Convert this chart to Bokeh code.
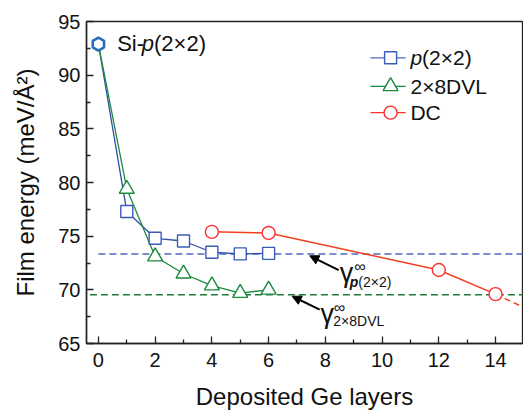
from bokeh.plotting import figure
from bokeh.models import Label, Arrow, NormalHead, Range1d, FixedTicker
from bokeh.embed import file_html
from bokeh.resources import INLINE
import numpy as np

# ---- data ----
si_x = [0]
si_y = [92.9]
p22_x = [1, 2, 3, 4, 5, 6]
p22_y = [77.3, 74.8, 74.55, 73.5, 73.35, 73.4]
dvl_x = [1, 2, 3, 4, 5, 6]
dvl_y = [79.4, 73.1, 71.5, 70.4, 69.7, 70.0]
dc_x = [4, 6, 12, 14]
dc_y = [75.4, 75.3, 71.85, 69.6]
dc_ext_x = [14, 15]
dc_ext_y = [69.6, 68.35]
gamma_p22 = 73.35
gamma_dvl = 69.55
x_ticks = [0, 2, 4, 6, 8, 10, 12, 14]
y_ticks = [65, 70, 75, 80, 85, 90, 95]

BLUE = "#2f50a8"
BLUE_D = "#5068bb"
GREEN = "#1c8a3c"
GREEN_D = "#1f7a3a"
RED = "#f0401e"
RED_M = "#ff3030"
HEX = "#2a6cb8"
FONT = "Liberation Sans"

p = figure(width=523, height=412, output_backend="svg", toolbar_location=None,
           x_range=Range1d(-0.42, 14.95), y_range=Range1d(65, 95),
           min_border_left=86, min_border_right=1, min_border_top=21, min_border_bottom=65)
p.grid.visible = False
p.outline_line_color = "#222222"
p.outline_line_width = 1.3
p.background_fill_color = "white"
p.border_fill_color = "white"

for ax in (p.xaxis[0], p.yaxis[0]):
    ax.axis_line_width = 1.5
    ax.axis_line_color = "#222222"
    ax.major_tick_in = 7
    ax.major_tick_out = 0
    ax.minor_tick_in = 4
    ax.minor_tick_out = 0
    ax.major_tick_line_width = 1.3
    ax.minor_tick_line_width = 1.3
    ax.major_tick_line_color = "#222222"
    ax.minor_tick_line_color = "#222222"
    ax.major_label_text_font = FONT
    ax.major_label_text_font_size = "20px"
    ax.major_label_text_color = "#111111"
    ax.axis_label_text_font = FONT
    ax.axis_label_text_font_size = "24px"
    ax.axis_label_text_font_style = "normal"
    ax.axis_label_text_color = "#111111"

p.xaxis[0].ticker = FixedTicker(ticks=x_ticks, minor_ticks=[1, 3, 5, 7, 9, 11, 13])
p.yaxis[0].ticker = FixedTicker(ticks=y_ticks, minor_ticks=[67.5, 72.5, 77.5, 82.5, 87.5, 92.5])
p.xaxis[0].axis_label = "Deposited Ge layers"
p.yaxis[0].axis_label = "Film energy (meV/Å²)"
p.xaxis[0].major_label_standoff = 9
p.yaxis[0].major_label_standoff = 6
p.xaxis[0].axis_label_standoff = 13
p.yaxis[0].axis_label_standoff = 16

# limit lines
p.line([0, 15], [gamma_p22, gamma_p22], line_color=BLUE_D, line_width=1.5, line_dash="7 4")
p.line([-0.3, 15], [gamma_dvl, gamma_dvl], line_color=GREEN_D, line_width=1.5, line_dash="7 4")

# series lines
p.line(si_x + p22_x, si_y + p22_y, line_color=BLUE, line_width=1.3)
p.line(si_x + dvl_x, si_y + dvl_y, line_color=GREEN, line_width=1.3)
p.line(dc_x, dc_y, line_color=RED, line_width=1.5)
p.line(dc_ext_x, dc_ext_y, line_color=RED, line_width=1.5, line_dash="6 4")

# markers
p.scatter(p22_x, p22_y, marker="square", size=12, line_color="#3a5cb8", fill_color="white", line_width=1.4)
p.scatter(dvl_x, dvl_y, marker="triangle", size=15, line_color=GREEN, fill_color="white", line_width=1.4)
p.scatter(dc_x, dc_y, marker="circle", size=13, line_color=RED_M, fill_color="white", line_width=1.4)
p.scatter(si_x, si_y, marker="hex", size=13, angle=np.pi / 2, line_color=HEX, fill_color="white", line_width=2.6)

def lab(x, y, text, size, style="normal", baseline="middle", color="#111111"):
    p.add_layout(Label(x=x, y=y, text=text, text_font=FONT, text_font_size=size,
                       text_font_style=style, text_baseline=baseline, text_align="left",
                       text_color=color))

# Si label
lab(0.66, 92.95, "Si-", "22px")
lab(1.53, 92.95, "p", "22px", style="italic")
lab(1.96, 92.95, "(2×2)", "22px")

# legend
leg_rows = [91.62, 88.96, 86.51]
p.line([9.59, 10.83], [leg_rows[0]] * 2, line_color=BLUE_D, line_width=1.3)
p.scatter([10.30], [leg_rows[0]], marker="square", size=12, line_color="#3a5cb8", fill_color="white", line_width=1.4)
p.line([9.59, 10.83], [leg_rows[1]] * 2, line_color=GREEN, line_width=1.3)
p.scatter([10.30], [leg_rows[1]], marker="triangle", size=15, line_color=GREEN, fill_color="white", line_width=1.4)
p.line([9.59, 10.83], [leg_rows[2]] * 2, line_color=RED_M, line_width=1.3)
p.scatter([10.30], [leg_rows[2]], marker="circle", size=13, line_color=RED_M, fill_color="white", line_width=1.4)
lab(11.0, leg_rows[0], "p", "21px", style="italic")
lab(11.41, leg_rows[0], "(2×2)", "21px")
lab(11.0, leg_rows[1], "2×8DVL", "21px")
lab(11.0, leg_rows[2], "DC", "21px")

# arrows
p.add_layout(Arrow(end=NormalHead(size=9, fill_color="black", line_color="black"),
                   x_start=8.47, y_start=71.84, x_end=7.45, y_end=73.17, line_width=2))
p.add_layout(Arrow(end=NormalHead(size=9, fill_color="black", line_color="black"),
                   x_start=7.80, y_start=68.16, x_end=6.83, y_end=69.4, line_width=2))

# gamma labels
lab(8.51, 71.56, "γ", "27px", baseline="alphabetic")
lab(9.02, 72.15, "∞", "16px", baseline="alphabetic")
lab(8.86, 70.71, "p", "14px", style="bold italic", baseline="alphabetic")
lab(9.16, 70.71, "(2×2)", "14px", baseline="alphabetic")

lab(7.83, 67.73, "γ", "27px", baseline="alphabetic")
lab(8.30, 68.38, "∞", "16px", baseline="alphabetic")
lab(8.28, 67.12, "2×8DVL", "14px", baseline="alphabetic")

open("out.html", "w").write(file_html(p, INLINE))
